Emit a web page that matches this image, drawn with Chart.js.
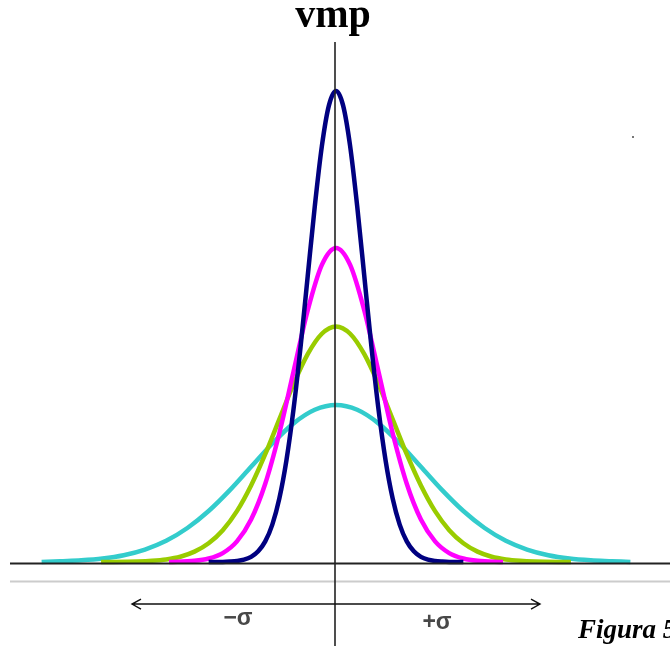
<!DOCTYPE html>
<html>
<head>
<meta charset="utf-8">
<script src="https://cdn.jsdelivr.net/npm/chart.js@4/dist/chart.umd.min.js"></script>
<style>
html,body{margin:0;padding:0;background:#fff;}
#wrap{width:670px;height:646px;position:relative;}
</style>
</head>
<body>
<div id="wrap"><canvas id="c"></canvas></div>
<script>
// Curve data (x in units of the narrowest sigma, y = relative density)
const navyX = [-4.5,-4,-3.75,-3.5,-3.25,-3,-2.75,-2.5,-2.25,-2,-1.75,-1.5,-1.25,-1,-0.75,-0.5,-0.25,0,0.25,0.5,0.75,1,1.25,1.5,1.75,2,2.25,2.5,2.75,3,3.25,3.5,3.75,4,4.5];
const navyY = [0,0.0001,0.0004,0.0009,0.002,0.0044,0.0091,0.0175,0.0317,0.054,0.0863,0.1295,0.1826,0.242,0.3011,0.3521,0.3867,0.3989,0.3867,0.3521,0.3011,0.242,0.1826,0.1295,0.0863,0.054,0.0317,0.0175,0.0091,0.0044,0.002,0.0009,0.0004,0.0001,0];

const magentaX = [-5.9,-5,-4.5,-4,-3.5,-3,-2.5,-2,-1.5,-1,-0.5,0,0.5,1,1.5,2,2.5,3,3.5,4,4.5,5,5.9];
const magentaY = [0,0.001,0.003,0.0076,0.0175,0.036,0.0663,0.1093,0.1613,0.213,0.2516,0.266,0.2516,0.213,0.1613,0.1093,0.0663,0.036,0.0175,0.0076,0.003,0.001,0];

const greenX = [-8.3,-7,-6.5,-6,-5.5,-5,-4.5,-4,-3.5,-3,-2.5,-2,-1.5,-1,-0.5,0,0.5,1,1.5,2,2.5,3,3.5,4,4.5,5,5.5,6,6.5,7,8.3];
const greenY = [0,0.0004,0.001,0.0022,0.0045,0.0088,0.0159,0.027,0.0431,0.0648,0.0913,0.121,0.1506,0.176,0.1933,0.1995,0.1933,0.176,0.1506,0.121,0.0913,0.0648,0.0431,0.027,0.0159,0.0088,0.0045,0.0022,0.001,0.0004,0];

const cyanX = [-10.4,-9.75,-9,-8.25,-7.5,-6.75,-6,-5.25,-4.5,-3.75,-3,-2.25,-1.5,-0.75,0,0.75,1.5,2.25,3,3.75,4.5,5.25,6,6.75,7.5,8.25,9,9.75,10.4];
const cyanY = [0,0.0007,0.0015,0.003,0.0058,0.0106,0.018,0.0288,0.0432,0.0609,0.0807,0.1004,0.1174,0.1289,0.133,0.1289,0.1174,0.1004,0.0807,0.0609,0.0432,0.0288,0.018,0.0106,0.0058,0.003,0.0015,0.0007,0];

const titleText = 'vmp';
const minusLabel = '\u2212\u03C3';
const plusLabel = '+\u03C3';
const figureLabel = 'Figura 5';

function pts(xs, ys){ return xs.map((x,i)=>({x:x, y:ys[i]})); }

const overlay = {
  id: 'overlay',
  beforeDatasetsDraw(chart){
    const ctx = chart.ctx;
    const y0 = chart.scales.y.getPixelForValue(0);
    ctx.save();
    ctx.strokeStyle = '#cccccc';
    ctx.lineWidth = 2;
    ctx.beginPath();
    ctx.moveTo(10, y0 + 19.5);
    ctx.lineTo(670, y0 + 19.5);
    ctx.stroke();
    ctx.restore();
  },
  afterDatasetsDraw(chart){
    const ctx = chart.ctx;
    const xs = chart.scales.x, ys = chart.scales.y;
    const x0 = xs.getPixelForValue(0);
    const y0 = ys.getPixelForValue(0);
    ctx.save();
    // baseline
    ctx.strokeStyle = '#222222';
    ctx.lineWidth = 2;
    ctx.beginPath();
    ctx.moveTo(10, y0 + 1.5);
    ctx.lineTo(670, y0 + 1.5);
    ctx.stroke();
    // vertical axis
    ctx.strokeStyle = '#222222';
    ctx.lineWidth = 1.6;
    ctx.beginPath();
    ctx.moveTo(x0 - 1, 42);
    ctx.lineTo(x0 - 1, 646);
    ctx.stroke();
    // arrow line
    const ay = y0 + 42;
    ctx.lineWidth = 1.4;
    ctx.strokeStyle = '#111111';
    ctx.beginPath();
    ctx.moveTo(132, ay); ctx.lineTo(540, ay);
    ctx.moveTo(141, ay - 5); ctx.lineTo(132, ay); ctx.lineTo(141, ay + 5);
    ctx.moveTo(531, ay - 5); ctx.lineTo(540, ay); ctx.lineTo(531, ay + 5);
    ctx.stroke();
    // texts
    ctx.fillStyle = '#000000';
    ctx.textAlign = 'center';
    ctx.textBaseline = 'alphabetic';
    ctx.font = 'bold 40px "Liberation Serif", "DejaVu Serif", serif';
    ctx.fillText(titleText, x0 - 3, 27);
    ctx.fillStyle = '#484848';
    ctx.font = 'bold 23px "Liberation Sans", "DejaVu Sans", sans-serif';
    ctx.fillText(minusLabel, 238, y0 + 63);
    ctx.fillText(plusLabel, 437, y0 + 67);
    ctx.fillStyle = '#000000';
    ctx.textAlign = 'left';
    ctx.font = 'bold italic 27px "Liberation Serif", "DejaVu Serif", serif';
    ctx.fillText(figureLabel, 578, 638);
    // tiny stray dot
    ctx.fillStyle = '#777777';
    ctx.fillRect(632, 136, 2, 2);
    ctx.restore();
  }
};

const common = {fill:false, borderWidth:4.5, pointRadius:0, cubicInterpolationMode:'monotone', borderJoinStyle:'round'};

new Chart(document.getElementById('c'), {
  type: 'line',
  data: {
    datasets: [
      Object.assign({label:'navy', data: pts(navyX, navyY), borderColor:'#000080', order:1}, common),
      Object.assign({label:'magenta', data: pts(magentaX, magentaY), borderColor:'#ff00ff', order:2}, common),
      Object.assign({label:'green', data: pts(greenX, greenY), borderColor:'#99cc00', order:3}, common),
      Object.assign({label:'cyan', data: pts(cyanX, cyanY), borderColor:'#33cccc', order:4}, common)
    ]
  },
  options: {
    responsive: true,
    maintainAspectRatio: false,
    animation: false,
    layout: {padding: {left: 2, right: 0, top: 0, bottom: 0}},
    plugins: {legend:{display:false}, tooltip:{enabled:false}, title:{display:false}},
    scales: {
      x: {type:'linear', min:-11.8, max:11.8, display:false},
      y: {type:'linear', min:-0.0711, max:0.4759, display:false}
    }
  },
  plugins: [overlay]
});
</script>
</body>
</html>
